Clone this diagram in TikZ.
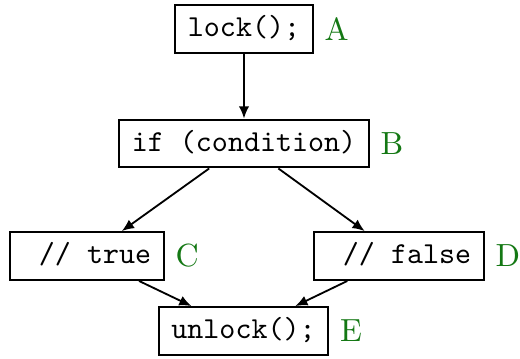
\documentclass[tikz,border=0pt]{standalone}
\usetikzlibrary{arrows.meta}
\definecolor{labelgreen}{RGB}{20,120,20}
\begin{document}
\begin{tikzpicture}[x=0.328pt,y=-0.328pt,
  codebox/.style={draw,line width=0.7pt,font=\ttfamily,inner xsep=4.2pt,
    minimum height=15pt,text height=7pt,text depth=2pt},
  tag/.style={label={[text=labelgreen,inner sep=3.3pt,font=\fontsize{10.5}{12}\selectfont]right:#1}},
  flow/.style={-{Latex[length=4pt,width=3.4pt]},line width=0.6pt}]
\useasboundingbox (0,0) rectangle (520,358);
\node[codebox,tag=A] (A) at (244,29) {lock();};
\node[codebox,tag=B] (B) at (244,143.5) {if (condition)};
\node[codebox,tag=C] (C) at (87,256) {\ // true};
\node[codebox,tag=D] (D) at (399,256) {\ // false};
\node[codebox,tag=E] (E) at (243.5,331) {unlock();};
\draw[flow] (A) -- (B);
\draw[flow] (B) -- (C);
\draw[flow] (B) -- (D);
\draw[flow] (C) -- (E);
\draw[flow] (D) -- (E);
\end{tikzpicture}
\end{document}
